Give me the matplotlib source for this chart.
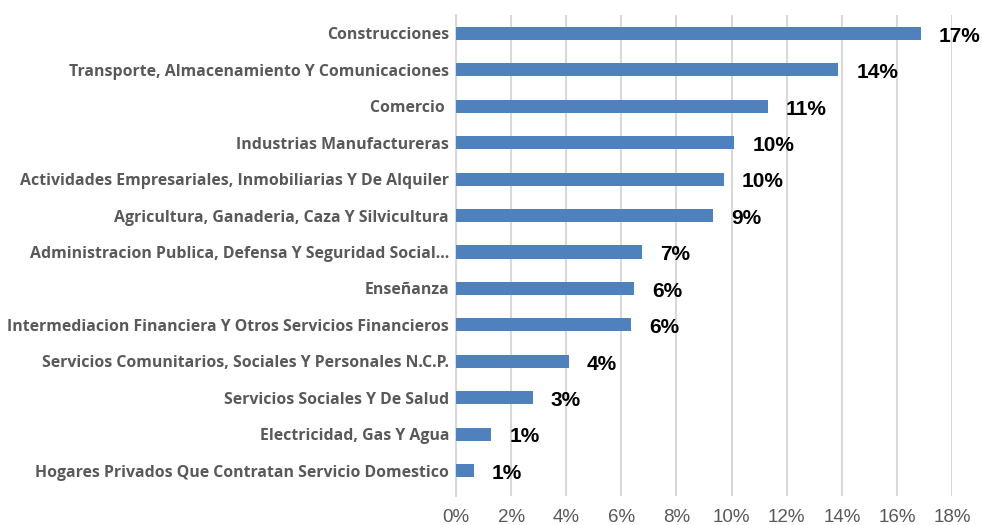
import matplotlib.pyplot as plt
from matplotlib.ticker import FuncFormatter

categories = [
    "Construcciones",
    "Transporte, Almacenamiento Y Comunicaciones",
    "Comercio ",
    "Industrias Manufactureras",
    "Actividades Empresariales, Inmobiliarias Y De Alquiler",
    "Agricultura, Ganaderia, Caza Y Silvicultura",
    "Administracion Publica, Defensa Y Seguridad Social…",
    "Enseñanza",
    "Intermediacion Financiera Y Otros Servicios Financieros",
    "Servicios Comunitarios, Sociales Y Personales N.C.P.",
    "Servicios Sociales Y De Salud",
    "Electricidad, Gas Y Agua",
    "Hogares Privados Que Contratan Servicio Domestico",
]
values = [16.87, 13.87, 11.32, 10.09, 9.71, 9.33, 6.75, 6.45, 6.35, 4.1, 2.78, 1.28, 0.65]
xticks = list(range(0, 19, 2))

fig = plt.figure(figsize=(9.82, 5.25), dpi=100)
ax = fig.add_axes([0.4644, 0.055, 0.5051, 0.916])

ypos = list(range(len(categories)))
ax.barh(ypos, values, height=0.36, color="#4F81BD", zorder=3)

for y, v in zip(ypos, values):
    ax.annotate(f"{v:.0f}%", xy=(v, y), xytext=(13, -2), textcoords="offset points",
                va="center", ha="left", fontsize=15, fontweight="bold",
                family="Liberation Sans", color="black")

ax.set_xlim(0, 18)
ax.set_ylim(12.7, -0.5)
ax.set_xticks(xticks)
ax.xaxis.set_major_formatter(FuncFormatter(lambda x, p: f"{x:.0f}%"))
ax.set_yticks(ypos)
ax.set_yticklabels(categories, fontsize=11.4, fontweight="bold", family="Open Sans", color="#595959")

for lbl in ax.get_xticklabels():
    lbl.set_family("Liberation Sans")
    lbl.set_fontsize(13.5)
    lbl.set_color("#595959")

ax.grid(axis="x", color="#D9D9D9", linewidth=1.5, zorder=0)
ax.tick_params(axis="both", length=0)
ax.tick_params(axis="y", pad=5)
ax.tick_params(axis="x", pad=9)
for side in ["top", "right", "bottom"]:
    ax.spines[side].set_visible(False)
ax.spines["left"].set_color("#D9D9D9")
ax.spines["left"].set_linewidth(1.5)

fig.savefig("out.png", dpi=100)
